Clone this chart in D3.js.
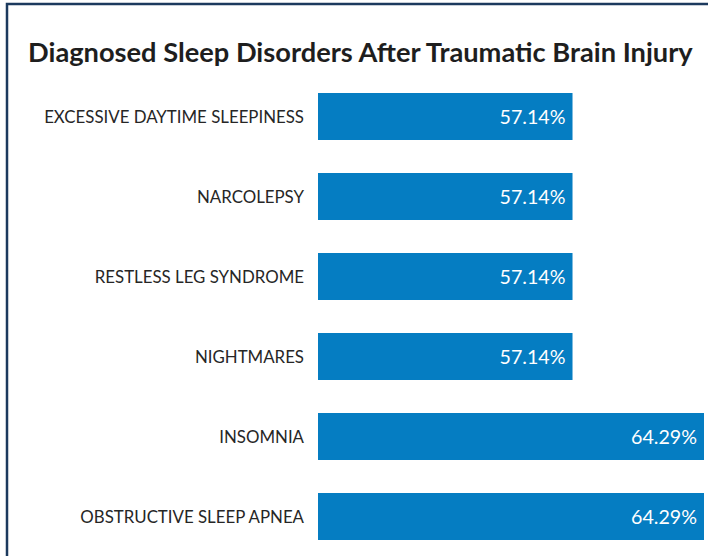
<!DOCTYPE html>
<html>
<head>
<meta charset="utf-8">
<script src="https://cdn.jsdelivr.net/npm/d3@7"></script>
<style>
  html, body { margin: 0; padding: 0; background: #fff; }
  svg { display: block; }
</style>
</head>
<body>
<svg id="chart" width="708" height="556"></svg>
<script>
const title = "Diagnosed Sleep Disorders After Traumatic Brain Injury";
const categories = [
  "EXCESSIVE DAYTIME SLEEPINESS",
  "NARCOLEPSY",
  "RESTLESS LEG SYNDROME",
  "NIGHTMARES",
  "INSOMNIA",
  "OBSTRUCTIVE SLEEP APNEA"
];
const values = [57.14, 57.14, 57.14, 57.14, 64.29, 64.29];
const axisMin = 43.3;   // axis minimum (bars start here)
const axisMax = 64.29;

const svg = d3.select("#chart");
const W = 708, H = 556;
const font = "Lato, 'Open Sans', 'Noto Sans', sans-serif";

// frame
svg.append("rect")
  .attr("x", 7).attr("y", 4)
  .attr("width", W + 10).attr("height", H + 10)
  .attr("fill", "#fff")
  .attr("stroke", "#1c3a5e").attr("stroke-width", 2.5);

const x = d3.scaleLinear().domain([axisMin, axisMax]).range([318, 704]);
const y = d3.scaleBand().domain(categories).range([60, 573]).paddingInner(0.4125).paddingOuter(0.4125);

function fit(sel, target) {
  const n = sel.node();
  const fs = parseFloat(sel.attr("font-size"));
  const w = n.getComputedTextLength();
  sel.attr("font-size", (fs * target / w).toFixed(2));
}

const t = svg.append("text")
  .attr("x", 28).attr("y", 62)
  .attr("font-family", font).attr("font-weight", 700)
  .attr("font-size", 24).attr("fill", "#1e1e1e")
  .text(title);
fit(t, 665);

svg.append("g").selectAll("rect")
  .data(categories)
  .join("rect")
  .attr("x", x(axisMin))
  .attr("y", d => y(d))
  .attr("width", (d, i) => x(values[i]) - x(axisMin))
  .attr("height", y.bandwidth())
  .attr("fill", "#057dc2");

// category labels
const probe = svg.append("text").attr("font-family", font).attr("font-size", 16).text(categories[0]);
fit(probe, 260);
const labelFs = probe.attr("font-size");
probe.remove();

svg.append("g").selectAll("text")
  .data(categories)
  .join("text")
  .attr("x", 304)
  .attr("y", d => y(d) + y.bandwidth() / 2)
  .attr("dy", "0.36em")
  .attr("text-anchor", "end")
  .attr("font-family", font)
  .attr("font-size", labelFs)
  .attr("fill", "#262626")
  .text(d => d);

// value labels
const vprobe = svg.append("text").attr("font-family", font).attr("font-size", 18).text("57.14%");
fit(vprobe, 66);
const valFs = vprobe.attr("font-size");
vprobe.remove();

svg.append("g").selectAll("text")
  .data(categories)
  .join("text")
  .attr("x", (d, i) => x(values[i]) - 7)
  .attr("y", d => y(d) + y.bandwidth() / 2)
  .attr("dy", "0.36em")
  .attr("text-anchor", "end")
  .attr("font-family", font)
  .attr("font-size", valFs)
  .attr("fill", "#ffffff")
  .text((d, i) => values[i].toFixed(2) + "%");
</script>
</body>
</html>
